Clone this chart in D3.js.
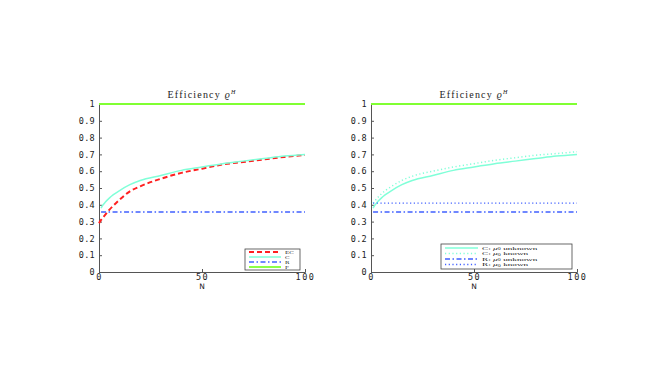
<!DOCTYPE html>
<html>
<head>
<meta charset="utf-8">
<script src="https://cdn.jsdelivr.net/npm/d3@7"></script>
<style>
  body { margin: 0; background: #fff; }
  svg { display: block; }
</style>
</head>
<body>
<svg width="654" height="382"></svg>
<script>
const Ns      = [0, 1, 2, 3, 5, 7, 10, 15, 20, 30, 40, 50, 60, 70, 80, 90, 100];
const cUnk    = [null, 0.38, 0.40, 0.415, 0.44, 0.46, 0.485, 0.52, 0.545, 0.575, 0.605, 0.625, 0.645, 0.66, 0.675, 0.69, 0.70];
const ecVals  = [0.29, 0.31, 0.325, 0.34, 0.37, 0.395, 0.43, 0.48, 0.51, 0.555, 0.59, 0.615, 0.64, 0.655, 0.67, 0.685, 0.697];
const cKnown  = [null, 0.41, 0.425, 0.44, 0.465, 0.485, 0.51, 0.545, 0.57, 0.60, 0.625, 0.645, 0.665, 0.68, 0.695, 0.705, 0.716];
const rUnk    = 0.357;
const rKnown  = 0.41;
const fVal    = 1;
const xTicks  = [0, 50, 100];
const yTicks  = [0, 0.1, 0.2, 0.3, 0.4, 0.5, 0.6, 0.7, 0.8, 0.9, 1];

const cyan = "#80ffd8", red = "#ff2020", blue = "#4060ff", green = "#80ff33";
const svg = d3.select("svg");
const y = d3.scaleLinear().domain([0, 1]).range([272, 104]);

function panel(x0, x1, series, legend) {
  const x = d3.scaleLinear().domain([0, 100]).range([x0, x1]);
  const g = svg.append("g");

  // axes
  const ax = g.append("g").attr("transform", "translate(0,272)")
    .call(d3.axisBottom(x).tickValues(xTicks).tickSize(-3).tickPadding(2));
  const ay = g.append("g").attr("transform", `translate(${x0},0)`)
    .call(d3.axisLeft(y).tickValues(yTicks).tickSize(-3).tickPadding(4)
      .tickFormat(d => d === 0 || d === 1 ? d : d3.format(".1f")(d)));
  [ax, ay].forEach(a => {
    a.select(".domain").attr("stroke", "#555");
    a.selectAll(".tick line").attr("stroke", "#555");
    a.selectAll("text").attr("fill", "#222").style("font-family", "DejaVu Sans Mono, monospace").style("font-size", "8.5px");
  });
  ax.selectAll("text").style("letter-spacing", "1.5px");
  ay.selectAll("text").style("letter-spacing", "0.3px");

  g.append("text").attr("x", (x0 + x1) / 2).attr("y", 288.5).attr("text-anchor", "middle")
    .style("font-family", "DejaVu Sans, sans-serif").style("font-size", "7.5px").attr("fill", "#222").text("N");

  const title = g.append("text").attr("x", (x0 + x1) / 2).attr("y", 98).attr("text-anchor", "middle")
    .style("font-family", "Liberation Serif, serif").style("font-size", "10px")
    .style("letter-spacing", "1.2px").attr("fill", "#222");
  title.append("tspan").text("Efficiency ");
  title.append("tspan").style("font-style", "italic").text("ϱ");
  title.append("tspan").attr("dy", -4).style("font-size", "6px").style("font-style", "italic").text("H");

  const line = d3.line().defined(d => d[1] != null).x(d => x(d[0])).y(d => y(d[1])).curve(d3.curveMonotoneX);
  series.forEach(s => {
    const pts = Array.isArray(s.values) ? Ns.map((n, i) => [n, s.values[i]]) : [[s.from || 0, s.values], [100, s.values]];
    g.append("path").attr("d", line(pts)).attr("fill", "none")
      .attr("stroke", s.color).attr("stroke-width", s.w || 1.5)
      .attr("stroke-dasharray", s.dash || null);
  });

  // legend
  const L = legend;
  g.append("rect").attr("x", L.x).attr("y", L.y).attr("width", L.w).attr("height", L.h)
    .attr("fill", "#fff").attr("stroke", "#444").attr("stroke-width", 0.8);
  series.filter(s => !s.noLegend).forEach((s, i) => {
    const yy = L.y + L.top + i * L.step;
    g.append("line").attr("x1", L.x + 4).attr("x2", L.x + 4 + L.lw).attr("y1", yy).attr("y2", yy)
      .attr("stroke", s.color).attr("stroke-width", s.w || 1.5).attr("stroke-dasharray", s.dash || null);
    const t = g.append("text")
      .attr("transform", `translate(${L.x + 8 + L.lw},${yy + L.fs * 0.35}) scale(${L.sx},1)`)
      .style("font-family", "Liberation Serif, serif").style("font-size", L.fs + "px").attr("fill", "#222");
    if (s.mu) {
      t.append("tspan").text(s.label + ": ");
      t.append("tspan").style("font-style", "italic").text("μ");
      t.append("tspan").attr("dy", 0.8).style("font-size", (L.fs * 0.7) + "px").text("0");
      t.append("tspan").attr("dy", -0.8).text(" " + s.mu);
    } else {
      t.text(s.label);
    }
  });
}

panel(99, 305, [
  { label: "EC", values: ecVals, color: red, dash: "5,3", w: 2 },
  { label: "C", values: cUnk, color: cyan, w: 1.5 },
  { label: "R", values: rUnk, from: 1, color: blue, dash: "5,2.5,1.5,2.5", w: 1.3 },
  { label: "F", values: fVal, color: green, w: 1.8 }
], { x: 245, y: 249, w: 55, h: 21, lw: 32, step: 5, top: 3, fs: 4.3, sx: 1.6 });

panel(371, 577, [
  { label: "C", mu: "unknown", values: cUnk, color: cyan, w: 1.5 },
  { label: "C", mu: "known", values: cKnown, color: cyan, dash: "1.2,2.5", w: 1.5 },
  { label: "R", mu: "unknown", values: rUnk, from: 1, color: blue, dash: "5,2.5,1.5,2.5", w: 1.3 },
  { label: "R", mu: "known", values: rKnown, from: 1, color: blue, dash: "1.2,2.5", w: 1.3 },
  { label: "F", values: fVal, color: green, w: 1.8, noLegend: true }
], { x: 441, y: 244, w: 131, h: 25, lw: 33, step: 5.5, top: 4, fs: 4.6, sx: 2.0 });
</script>
</body>
</html>
